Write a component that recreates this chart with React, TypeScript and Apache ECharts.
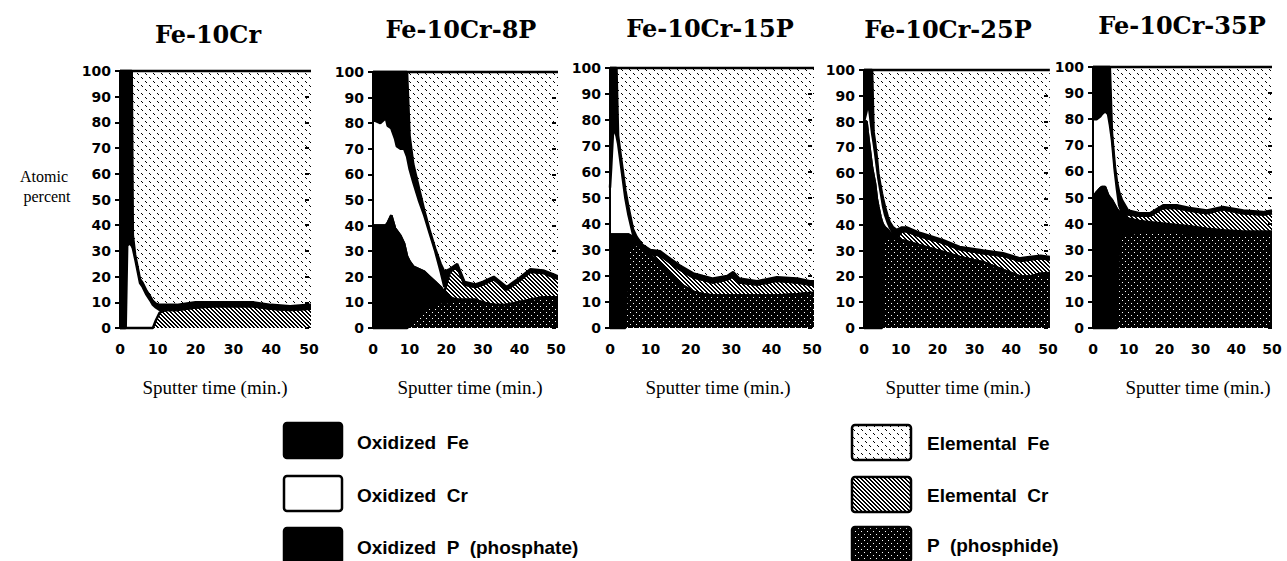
import React, { useEffect, useRef } from 'react';
import * as echarts from 'echarts';

// ---------- text ----------
const titles = ['Fe-10Cr', 'Fe-10Cr-8P', 'Fe-10Cr-15P', 'Fe-10Cr-25P', 'Fe-10Cr-35P'];
const xAxisName = 'Sputter time (min.)';
const yAxisName = ['Atomic', 'percent'];
const legendLeft = ['Oxidized  Fe', 'Oxidized  Cr', 'Oxidized  P  (phosphate)'];
const legendRight = ['Elemental  Fe', 'Elemental  Cr', 'P  (phosphide)'];

// ---------- data: cumulative atomic percent (upper boundary of each species band) ----------
// Fe-10Cr
const p1Time = [0, 1.5, 1.9, 2.5, 3.1, 3.4, 4, 5.3, 6, 7, 7.9, 8.7, 9.5, 10.5, 12, 15, 20, 25, 30, 35, 40, 45, 50, 52];
const p1Total = [[0, 100], [51, 100]];
const p1OxFeTop = [100, 100, 100, 100, 100, 36, 28.5, 19, 17.5, 14.5, 12.5, 10.5, 9.5, 9, 9, 9, 10, 10, 10, 10, 9, 8.5, 9, 9];
const p1OxCrTop = [0, 0, 32, 33, 32, 31, 27, 17.5, 16, 13, 11, 9, 8, 7, 7, 7, 8, 8.5, 8.5, 8.5, 7.5, 7, 7.5, 7.5];
const p1ElCrTop = [0, 0, 0, 0, 0, 0, 0, 0, 0, 0, 0, 0, 3, 6, 7, 7, 8, 8.5, 8.5, 8.5, 7.5, 7, 7.5, 7.5];

// Fe-10Cr-8P
const p2Time = [0, 0.5, 2, 3.5, 4, 5, 6, 6.5, 7.5, 8.5, 9.3, 10, 11, 12.5, 14, 15.5, 17, 18.5, 19.5, 21, 23, 25, 28, 30, 33, 36.5, 39.5, 43, 46.5, 50, 51];
const p2Total = [[0, 100], [51, 100]];
const p2OxFeTop = [100, 100, 100, 100, 100, 100, 100, 100, 100, 100, 100, 75, 64, 55, 46, 38, 31, 25, 22, 23, 25, 18, 17, 18, 20, 16, 19, 23, 22.5, 20.5, 20];
const p2OxCrTop = [81, 81, 80, 82, 79, 78, 74, 71, 70, 70, 67, 62, 57, 50, 44, 37, 30, 22, 16, 22, 24, 17, 16, 17, 19, 15, 18, 22, 21.5, 19.5, 19];
const p2ElCrTop = [40, 40, 40, 40, 41, 44, 39, 38, 36, 33, 28, 26, 24, 23, 22, 20, 18, 16, 14, 22, 24, 17, 16, 17, 19, 15, 18, 22, 21.5, 19.5, 19];
const p2OxPTop = [40, 40, 40, 40, 41, 44, 39, 38, 36, 33, 28, 26, 24, 23, 22, 20, 18, 16, 14, 12, 11, 11, 11, 10, 9, 9, 10, 11, 12, 12, 12];
const p2PTop = [0, 0, 0, 0, 0, 0, 0, 0, 0, 0, 0, 1, 3, 5, 7, 8, 9, 10, 10, 10, 11, 11, 11, 10, 9, 9, 10, 11, 12, 12, 12];

// Fe-10Cr-15P
const p3Time = [0, 0.3, 0.8, 1.6, 2, 3.2, 3.8, 4.5, 5.7, 6.6, 8, 10, 12.4, 15, 17.3, 20.6, 23, 25.5, 29, 30.5, 32, 36.4, 41.3, 46.3, 49.5, 50.5];
const p3Total = [[0, 100], [50.5, 100]];
const p3OxFeTop = [100, 100, 100, 100, 74, 60, 53, 47, 38, 35, 32, 30, 29.5, 26.5, 24, 21, 20, 19, 20, 21.5, 19, 18, 19.5, 19, 18, 18];
const p3OxCrTop = [54, 62, 77, 74, 71, 57, 50, 44, 36, 33, 31, 28.5, 28, 25, 22.5, 19.5, 18.5, 17.5, 18.6, 20, 17.5, 16.7, 18.2, 17.5, 16.7, 16.7];
const p3ElCrTop = [36, 36, 36, 36, 36, 36, 36, 36, 35, 33, 31, 28.5, 28, 25, 22.5, 19.5, 18.5, 17.5, 18.6, 20, 17.5, 16.7, 18.2, 17.5, 16.7, 16.7];
const p3OxPTop = [36, 36, 36, 36, 36, 36, 36, 36, 35, 33, 31, 28, 25, 21, 17, 14, 13, 12.5, 12.5, 12.5, 12.5, 12.5, 12.5, 13, 13.5, 13.5];
const p3PTop = [0, 0, 0, 0, 0, 0, 0, 30, 33, 32, 30, 27, 24, 20, 17, 14, 13, 12.5, 12.5, 12.5, 12.5, 12.5, 12.5, 13, 13.5, 13.5];

// Fe-10Cr-25P
const p4Time = [0, 0.7, 1, 1.5, 2.2, 2.6, 3, 3.5, 3.9, 4.5, 4.9, 5.2, 5.7, 6.5, 7, 7.9, 8.9, 10.3, 11.6, 15.3, 21.5, 26, 32.4, 37.8, 42.4, 45, 48, 50.5];
const p4Total = [[0, 100], [50.5, 100]];
const p4OxFeTop = [100, 100, 100, 100, 100, 76, 72, 66, 60, 55, 52, 50, 47, 43, 41, 39, 38, 39, 39, 36.8, 34, 31.4, 30, 29, 27, 27.5, 28, 27.5];
const p4OxCrTop = [80, 84, 88, 84, 75.5, 72, 68, 62.4, 58, 53, 49.6, 47, 44, 40.7, 39, 36.8, 35, 37.5, 37.5, 35.5, 33, 30.5, 29, 28, 26, 26.5, 27, 26.5];
const p4ElCrTop = [80, 80, 76, 70, 62, 59, 56, 50, 47, 43, 41, 40, 39, 38, 37, 36, 35, 37.5, 37.5, 35.5, 33, 30.5, 29, 28, 26, 26.5, 27, 26.5];
const p4OxPTop = [80, 80, 76, 70, 62, 59, 56, 50, 47, 43, 41, 40, 39, 38, 37, 36, 35, 34, 33.5, 32, 29.5, 27.5, 25.5, 22.5, 20, 20, 21, 21.3];
const p4PTop = [0, 0, 0, 0, 0, 0, 0, 0, 0, 0, 0, 33, 34, 35, 35, 35, 34, 34, 33.5, 32, 29.5, 27.5, 25.5, 22.5, 20, 20, 21, 21.3];

// Fe-10Cr-35P
const p5Time = [0, 1, 2, 2.5, 3.4, 4.2, 4.7, 5.3, 6.1, 6.7, 7.3, 8.1, 9.8, 13, 16, 19.6, 23.4, 27, 31.8, 36.3, 42, 47.5, 50];
const p5Total = [[0, 100], [50, 100]];
const p5OxFeTop = [100, 100, 100, 100, 100, 100, 100, 74.7, 62, 56, 52, 49, 45, 44, 44, 47, 47, 46, 45, 46.4, 45, 44.4, 45];
const p5OxCrTop = [80, 80, 81, 82, 83, 82, 78, 72, 60, 53, 47, 44, 43.5, 43, 43, 46, 46, 45, 44, 45.5, 44, 43.5, 44];
const p5ElCrTop = [50, 52, 53.5, 54, 54, 51, 50, 49, 47, 45.5, 44.5, 44, 43.5, 43, 43, 46, 46, 45, 44, 45.5, 44, 43.5, 44];
const p5OxPTop = [50, 52, 53.5, 54, 54, 51, 50, 49, 47, 45.5, 44.5, 44, 42, 41, 40.5, 40, 39.5, 39, 38, 37.5, 37, 37, 37];
const p5PTop = [0, 0, 0, 0, 0, 0, 0, 0, 0, 0, 35, 36, 36, 36.5, 37, 37, 36.5, 36, 36, 35.5, 35.5, 35.5, 35.5];

const xTicks = [0, 10, 20, 30, 40, 50];

// ---------- layout (pixels) ----------
const layout = [
  { left: 120, width: 189, top: 71, titleX: 208, titleY: 34, nameX: 215 },
  { left: 373, width: 183, top: 72, titleX: 461, titleY: 29, nameX: 470 },
  { left: 610, width: 202, top: 68, titleX: 710, titleY: 28, nameX: 718 },
  { left: 864, width: 184, top: 70, titleX: 948, titleY: 29, nameX: 958 },
  { left: 1093, width: 179, top: 67, titleX: 1182, titleY: 25, nameX: 1198 },
];
const plotBottom = 328;

function makePattern(w: number, h: number, draw: (ctx: CanvasRenderingContext2D) => void) {
  const c = document.createElement('canvas');
  c.width = w;
  c.height = h;
  const ctx = c.getContext('2d') as CanvasRenderingContext2D;
  draw(ctx);
  return { image: c, repeat: 'repeat', imageWidth: w, imageHeight: h } as any;
}

export default function App() {
  const ref = useRef<HTMLDivElement>(null);
  useEffect(() => {
    if (!ref.current) return;
    const chart = echarts.init(ref.current, null, { renderer: 'svg', width: 1287, height: 561 });

    const fePat = makePattern(8, 8, (ctx) => {
      ctx.fillStyle = '#fff';
      ctx.fillRect(0, 0, 8, 8);
      ctx.fillStyle = '#000';
      [[1, 1], [5, 5]].forEach(([x, y]) => {
        ctx.fillRect(x, y, 1, 1);
        ctx.fillRect(x + 1, y + 1, 1, 1);
      });
    });
    const crPat = makePattern(4, 4, (ctx) => {
      ctx.fillStyle = '#000';
      ctx.fillRect(0, 0, 4, 4);
      ctx.fillStyle = '#fff';
      [[0, 0], [1, 1], [2, 2], [3, 3], [1, 0], [2, 1], [3, 2], [0, 3]].forEach(([x, y]) => ctx.fillRect(x, y, 1, 1));
    });
    const pPat = makePattern(6, 6, (ctx) => {
      ctx.fillStyle = '#000';
      ctx.fillRect(0, 0, 6, 6);
      ctx.fillStyle = '#fff';
      ctx.fillRect(0, 0, 1, 1);
      ctx.fillRect(3, 3, 1, 1);
    });

    const panels = [
      { time: p1Time, total: p1Total, layers: [p1OxFeTop, p1OxCrTop, p1ElCrTop] },
      { time: p2Time, total: p2Total, layers: [p2OxFeTop, p2OxCrTop, p2ElCrTop, p2OxPTop, p2PTop] },
      { time: p3Time, total: p3Total, layers: [p3OxFeTop, p3OxCrTop, p3ElCrTop, p3OxPTop, p3PTop] },
      { time: p4Time, total: p4Total, layers: [p4OxFeTop, p4OxCrTop, p4ElCrTop, p4OxPTop, p4PTop] },
      { time: p5Time, total: p5Total, layers: [p5OxFeTop, p5OxCrTop, p5ElCrTop, p5OxPTop, p5PTop] },
    ];
    const layerFills = ['#000', '#fff', crPat, '#000', pPat];

    const grids: any[] = [];
    const xAxes: any[] = [];
    const yAxes: any[] = [];
    const series: any[] = [];
    const graphics: any[] = [];

    const baseSeries = (i: number, data: any[], fill: any, lw: number) => ({
      type: 'line',
      xAxisIndex: i,
      yAxisIndex: i,
      data,
      symbol: 'none',
      clip: false,
      silent: true,
      lineStyle: { color: '#000', width: lw },
      areaStyle: { color: fill, opacity: 1, origin: 'start' },
      emphasis: { disabled: true },
    });

    panels.forEach((p, i) => {
      const L = layout[i];
      grids.push({ left: L.left, top: L.top, width: L.width, height: plotBottom - L.top, containLabel: false });
      xAxes.push({
        type: 'value', gridIndex: i, min: xTicks[0], max: xTicks[xTicks.length - 1], interval: 10,
        axisLine: { show: false }, axisTick: { show: false }, splitLine: { show: false },
        axisLabel: { color: '#000', fontFamily: 'DejaVu Sans', fontWeight: 'bold', fontSize: 14, margin: 14 },
      });
      yAxes.push({
        type: 'value', gridIndex: i, min: 0, max: 100, interval: 10, z: 10,
        axisLine: { show: true, lineStyle: { color: '#000', width: 2 } },
        axisTick: { show: true, length: 5, lineStyle: { color: '#000', width: 2 } },
        splitLine: { show: false },
        axisLabel: { color: '#000', fontFamily: 'DejaVu Sans', fontWeight: 'bold', fontSize: 14, margin: 9 },
      });
      series.push(baseSeries(i, p.total, fePat, 2.5));
      p.layers.forEach((arr, k) => {
        series.push(baseSeries(i, p.time.map((t, j) => [t, arr[j]]), layerFills[k], 2.5));
      });
      graphics.push({
        type: 'text', x: L.titleX, y: L.titleY,
        style: { text: titles[i], font: 'bold 24px "DejaVu Serif"', fill: '#000', align: 'center', verticalAlign: 'middle', textAlign: 'center', textVerticalAlign: 'middle' },
      });
      graphics.push({
        type: 'text', x: L.nameX, y: 387,
        style: { text: xAxisName, font: '19px "Liberation Serif"', fill: '#000', align: 'center', verticalAlign: 'middle', textAlign: 'center', textVerticalAlign: 'middle' },
      });
    });
    // inner halves of the y tick marks
    panels.forEach((p, i) => {
      yAxes.push({
        type: 'value', gridIndex: i, min: 0, max: 100, interval: 10, z: 11,
        axisLine: { show: false }, axisLabel: { show: false }, splitLine: { show: false },
        axisTick: { show: true, inside: true, length: 4, lineStyle: { color: '#000', width: 2 } },
      });
    });

    graphics.push({ type: 'text', x: 44, y: 176, style: { text: yAxisName[0], font: '16px "Liberation Serif"', fill: '#000', align: 'center', verticalAlign: 'middle', textAlign: 'center', textVerticalAlign: 'middle' } });
    graphics.push({ type: 'text', x: 47, y: 196, style: { text: yAxisName[1], font: '16px "Liberation Serif"', fill: '#000', align: 'center', verticalAlign: 'middle', textAlign: 'center', textVerticalAlign: 'middle' } });

    const leftFills = ['#000', '#fff', '#000'];
    const rightFills = [fePat, crPat, pPat];
    const leftRows = [423, 476, 528];
    const rightRows = [425, 477, 527];
    legendLeft.forEach((name, k) => {
      graphics.push({ type: 'rect', shape: { x: 284, y: leftRows[k], width: 58, height: 35, r: 3 }, style: { fill: leftFills[k], stroke: '#000', lineWidth: 2.5 } });
      graphics.push({ type: 'text', x: 357, y: leftRows[k] + 19, style: { text: name, font: 'bold 19px "Liberation Sans"', fill: '#000', align: 'left', verticalAlign: 'middle', textAlign: 'left', textVerticalAlign: 'middle' } });
    });
    legendRight.forEach((name, k) => {
      graphics.push({ type: 'rect', shape: { x: 852, y: rightRows[k], width: 59, height: 35, r: 3 }, style: { fill: rightFills[k], stroke: '#000', lineWidth: 2.5 } });
      graphics.push({ type: 'text', x: 927, y: rightRows[k] + 18, style: { text: name, font: 'bold 19px "Liberation Sans"', fill: '#000', align: 'left', verticalAlign: 'middle', textAlign: 'left', textVerticalAlign: 'middle' } });
    });

    chart.setOption({
      animation: false,
      backgroundColor: '#fff',
      grid: grids,
      xAxis: xAxes,
      yAxis: yAxes,
      series,
      graphic: { elements: graphics },
    });
    return () => chart.dispose();
  }, []);
  return <div ref={ref} style={{ position: 'fixed', left: 0, top: 0, width: 1287, height: 561, background: '#fff' }} />;
}
